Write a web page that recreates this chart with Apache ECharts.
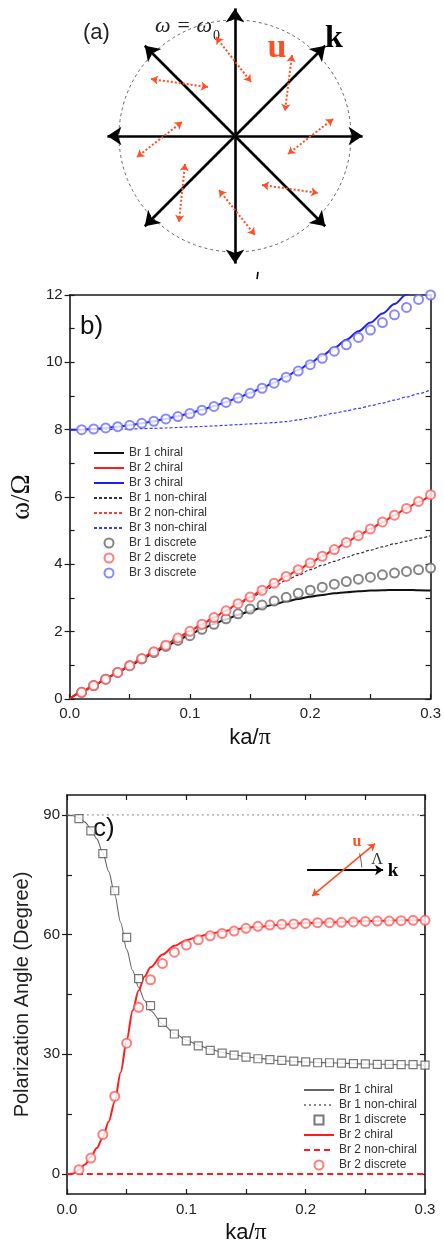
<!DOCTYPE html>
<html>
<head>
<meta charset="utf-8">
<script src="https://cdn.jsdelivr.net/npm/echarts@6/dist/echarts.min.js"></script>
<style>html,body{margin:0;padding:0;background:#fff}#c{width:444px;height:1246px}</style>
</head>
<body>
<div id="c"></div>
<script>
// ---------- Panel (a): schematic (units: circle radius = 1) ----------
const kAngles = [0, 45, 90, 135, 180, 225, 270, 315];
const kLength = 1.1;
// u double-arrows: [x1, y1, x2, y2]
const uArrows = [
  [-0.164, 0.853, 0.138, 0.466],
  [0.491, 0.698, 0.431, 0.216],
  [-0.724, 0.491, -0.233, 0.422],
  [-0.457, 0.121, -0.845, -0.181],
  [0.845, 0.147, 0.457, -0.155],
  [-0.431, -0.241, -0.483, -0.741],
  [0.233, -0.422, 0.716, -0.491],
  [-0.138, -0.466, 0.172, -0.853]
];
const markA = [[0.198, -1.172], [0.19, -1.233]];

// ---------- Panel (b): dispersion ----------
const kaB = [0.00,0.01,0.02,0.03,0.04,0.05,0.06,0.07,0.08,0.09,0.10,0.11,0.12,0.13,0.14,0.15,0.16,0.17,0.18,0.19,0.20,0.21,0.22,0.23,0.24,0.25,0.26,0.27,0.28,0.29,0.30];
const br1ChiralB = [0,0.2,0.4,0.59,0.79,0.98,1.18,1.37,1.56,1.74,1.92,2.08,2.23,2.37,2.5,2.61,2.72,2.81,2.9,2.97,3.04,3.09,3.14,3.17,3.2,3.22,3.23,3.24,3.24,3.23,3.22];
const br2ChiralB = [0,0.2,0.4,0.6,0.8,1.0,1.21,1.41,1.61,1.82,2.02,2.22,2.42,2.63,2.83,3.03,3.23,3.44,3.64,3.84,4.04,4.24,4.44,4.65,4.85,5.05,5.25,5.46,5.66,5.86,6.06];
const br3ChiralB = [8.0,8.0,8.02,8.05,8.09,8.13,8.19,8.25,8.32,8.4,8.49,8.59,8.7,8.82,8.95,9.09,9.24,9.4,9.58,9.77,9.98,10.2,10.43,10.67,10.92,11.18,11.45,11.73,12.02,12.32,12.63];
const br1NonChiralB = [0,0.2,0.4,0.6,0.8,1.0,1.21,1.41,1.61,1.82,2.02,2.22,2.42,2.62,2.81,2.99,3.17,3.35,3.52,3.68,3.84,3.97,4.09,4.21,4.32,4.42,4.52,4.61,4.69,4.77,4.85];
const br2NonChiralB = [0,0.2,0.4,0.6,0.8,1.0,1.21,1.41,1.61,1.82,2.02,2.22,2.42,2.63,2.83,3.03,3.23,3.44,3.64,3.84,4.04,4.24,4.44,4.65,4.85,5.05,5.25,5.46,5.66,5.86,6.06];
const br3NonChiralB = [8.0,8.0,8.0,8.01,8.01,8.02,8.03,8.04,8.05,8.065,8.08,8.095,8.11,8.13,8.15,8.17,8.19,8.21,8.24,8.29,8.35,8.42,8.49,8.56,8.63,8.71,8.79,8.88,8.97,9.07,9.18];
const kaDiscrete = [0.01,0.02,0.03,0.04,0.05,0.06,0.07,0.08,0.09,0.10,0.11,0.12,0.13,0.14,0.15,0.16,0.17,0.18,0.19,0.20,0.21,0.22,0.23,0.24,0.25,0.26,0.27,0.28,0.29,0.30];
const br1DiscreteB = [0.2,0.4,0.59,0.79,0.99,1.19,1.38,1.56,1.74,1.88,2.07,2.22,2.38,2.53,2.67,2.79,2.91,3.02,3.14,3.23,3.32,3.41,3.49,3.56,3.62,3.69,3.74,3.79,3.84,3.89];
const br2DiscreteB = [0.2,0.4,0.59,0.79,0.99,1.2,1.4,1.6,1.81,2.01,2.22,2.42,2.62,2.83,3.03,3.23,3.44,3.64,3.84,4.04,4.24,4.44,4.65,4.85,5.05,5.26,5.46,5.66,5.87,6.07];
const br3DiscreteB = [8.0,8.02,8.05,8.09,8.13,8.19,8.25,8.32,8.39,8.48,8.58,8.69,8.81,8.94,9.08,9.23,9.38,9.56,9.74,9.93,10.12,10.33,10.52,10.74,10.96,11.18,11.41,11.63,11.87,12.0];
const xTickVals = [0, 0.05, 0.1, 0.15, 0.2, 0.25, 0.3];
const xLabelVals = [0, 0.1, 0.2, 0.3];
const yTickB = [0,1,2,3,4,5,6,7,8,9,10,11,12];
const yLabelB = [0,2,4,6,8,10,12];

// ---------- Panel (c): polarization angle ----------
const kaC = [0,0.005,0.01,0.015,0.02,0.025,0.03,0.035,0.04,0.045,0.05,0.055,0.06,0.065,0.07,0.08,0.09,0.1,0.11,0.12,0.13,0.14,0.15,0.16,0.18,0.2,0.22,0.25,0.28,0.3];
const br1ChiralC = [90,89.8,89.3,88.2,86.5,84.0,80.5,75.8,70.0,63.0,56.3,51.0,46.8,43.5,41.0,37.6,35.3,33.6,32.3,31.3,30.5,29.9,29.4,29.0,28.4,28.1,27.9,27.6,27.4,27.3];
const br2ChiralC = [0,0.1,1.0,2.4,4.3,6.5,9.2,13.2,18.2,25.5,33.5,41.0,46.0,49.5,51.8,55.0,57.2,58.6,59.5,60.2,60.8,61.3,61.7,62.0,62.5,62.9,63.1,63.4,63.6,63.7];
const kaNonChiralC = [0, 0.3];
const br1NonChiralC = [90, 90];
const br2NonChiralC = [0, 0];
const br1DiscreteC = [89.1,86.0,80.3,71.0,59.3,49.0,42.2,38.0,35.1,33.4,32.1,31.0,30.3,29.8,29.3,28.9,28.7,28.5,28.3,28.1,27.9,27.9,27.8,27.7,27.6,27.5,27.5,27.4,27.4,27.3];
const br2DiscreteC = [1.1,4.0,9.9,19.5,32.8,41.8,48.7,52.8,55.6,57.4,58.7,59.7,60.3,60.9,61.6,62.1,62.4,62.6,62.7,62.8,63.0,63.0,63.1,63.2,63.3,63.4,63.4,63.5,63.6,63.6];
const yTickC = [0,15,30,45,60,75,90];
const yLabelC = [0,30,60,90];
// inset (in panel c data units)
const insetK = [[0.2012, 76.2], [0.2649, 76.2]];
const insetU = [[0.2054, 69.7], [0.2582, 82.8]];
const insetArc = [[0.2452, 80.4], [0.2466, 78.2], [0.2470, 76.8]];

// ---------- build ----------
const zip = (xs, ys) => xs.map((x, i) => [x, ys[i]]);
const deg = Math.PI / 180;
const FONT = 'Liberation Sans';
const AX = '#1a1a1a';
const RED = '#ff1c1c', BLUE = '#2020ee', ORANGE = '#ff4f24';
const SQUARE = 'path://M0,0L10,0L10,10L0,10Z';

const axLine = { show: true, onZero: false, lineStyle: { color: AX, width: 1.6 } };
const tickLbl = { fontFamily: FONT, fontSize: 15, color: '#222' };
const tickLine = { color: AX, width: 1.2 };
const noAxis = { axisLine: { show: false, onZero: false }, axisTick: { show: false }, axisLabel: { show: false }, splitLine: { show: false } };

const chart = echarts.init(document.getElementById('c'));

function lineS(name, xi, yi, xs, ys, color, width, type, z) {
  return { type: 'line', name, xAxisIndex: xi, yAxisIndex: yi, data: zip(xs, ys), symbol: 'none', showSymbol: false,
    smooth: 0.3, smoothMonotone: 'x', lineStyle: { color, width, type }, itemStyle: { color }, z: z || 2, silent: true };
}
function dotS(name, xi, yi, xs, ys, color, symbol, size, fill) {
  return { type: 'scatter', name, xAxisIndex: xi, yAxisIndex: yi, data: zip(xs, ys), symbol, symbolSize: size,
    symbolKeepAspect: true,
    itemStyle: { color: fill || color, borderColor: color, borderWidth: 1.2 }, z: 4, silent: true };
}
const lineItem = n => ({ name: n, itemStyle: { opacity: 0 } });

const option = {
  animation: false,
  backgroundColor: '#fff',
  polar: { center: [235, 136], radius: 116 },
  angleAxis: { type: 'value', min: 0, max: 360, axisLine: { show: true, lineStyle: { color: '#666', width: 1, type: [3, 3] } },
    axisTick: { show: false }, axisLabel: { show: false }, splitLine: { show: false } },
  radiusAxis: { show: false, min: 0, max: 1 },
  grid: [
    { left: 90, top: 2.6, width: 290, height: 266.8 },
    { left: 67, top: 295, width: 364, height: 404 },
    { left: 67, top: 795, width: 358, height: 402 }
  ],
  xAxis: [
    Object.assign({ gridIndex: 0, type: 'value', min: -1.25, max: 1.25, show: false }, noAxis),
    { gridIndex: 1, type: 'value', position: 'bottom', min: 0, max: 0.3, axisLine: axLine, splitLine: { show: false },
      axisTick: { show: true, inside: true, length: 5, customValues: xTickVals, lineStyle: tickLine },
      axisLabel: Object.assign({ show: true, customValues: xLabelVals, formatter: v => v.toFixed(1), margin: 7 }, tickLbl),
      name: '{s|ka/}{g|π}', nameLocation: 'middle', nameGap: 27,
      nameTextStyle: { rich: { s: { fontFamily: FONT, fontSize: 22, color: '#111' }, g: { fontFamily: 'Liberation Serif', fontSize: 24, color: '#111' } } } },
    Object.assign({ gridIndex: 1, type: 'value', position: 'top', min: 0, max: 0.3 }, noAxis, { axisLine: axLine }),
    { gridIndex: 2, type: 'value', position: 'bottom', min: 0, max: 0.3, axisLine: axLine, splitLine: { show: false },
      axisTick: { show: true, inside: true, length: 5, customValues: xTickVals, lineStyle: tickLine },
      axisLabel: Object.assign({ show: true, customValues: xLabelVals, formatter: v => v.toFixed(1), margin: 8 }, tickLbl),
      name: '{s|ka/}{g|π}', nameLocation: 'middle', nameGap: 27,
      nameTextStyle: { rich: { s: { fontFamily: FONT, fontSize: 22, color: '#111' }, g: { fontFamily: 'Liberation Serif', fontSize: 24, color: '#111' } } } },
    Object.assign({ gridIndex: 2, type: 'value', position: 'top', min: 0, max: 0.3 }, noAxis,
      { axisLine: axLine, axisTick: { show: true, inside: true, length: 5, customValues: xTickVals, lineStyle: tickLine } })
  ],
  yAxis: [
    Object.assign({ gridIndex: 0, type: 'value', min: -1.15, max: 1.15, show: false }, noAxis),
    { gridIndex: 1, type: 'value', position: 'left', min: 0, max: 12, axisLine: axLine, splitLine: { show: false },
      axisTick: { show: true, inside: false, length: 5, customValues: yLabelB, lineStyle: tickLine },
      axisLabel: Object.assign({ show: true, customValues: yLabelB, margin: 7 }, tickLbl),
      name: 'ω/Ω', nameLocation: 'middle', nameGap: 16, nameRotate: 90,
      nameTextStyle: { fontFamily: 'Liberation Serif', fontSize: 27, color: '#111' } },
    Object.assign({ gridIndex: 1, type: 'value', position: 'left', min: 0, max: 12 }, noAxis,
      { axisTick: { show: true, inside: true, length: 5, customValues: yTickB, lineStyle: tickLine } }),
    Object.assign({ gridIndex: 1, type: 'value', position: 'right', min: 0, max: 12 }, noAxis,
      { axisLine: axLine, axisTick: { show: true, inside: true, length: 5, customValues: yTickB, lineStyle: tickLine } }),
    { gridIndex: 2, type: 'value', position: 'left', min: -5, max: 95, axisLine: axLine, splitLine: { show: false },
      axisTick: { show: true, inside: false, length: 5, customValues: yLabelC, lineStyle: tickLine },
      axisLabel: Object.assign({ show: true, customValues: yLabelC, margin: 7 }, tickLbl),
      name: 'Polarization Angle (Degree)', nameLocation: 'middle', nameGap: 32, nameRotate: 90,
      nameTextStyle: { fontFamily: FONT, fontSize: 20, color: '#222' } },
    Object.assign({ gridIndex: 2, type: 'value', position: 'left', min: -5, max: 95 }, noAxis,
      { axisTick: { show: true, inside: true, length: 5, customValues: yTickC, lineStyle: tickLine } }),
    Object.assign({ gridIndex: 2, type: 'value', position: 'right', min: -5, max: 95 }, noAxis,
      { axisLine: axLine, axisTick: { show: true, inside: true, length: 5, customValues: yTickC, lineStyle: tickLine } })
  ],
  legend: [
    { orient: 'vertical', left: 88, top: 442, itemWidth: 30, itemHeight: 9, itemGap: 3, selectedMode: false,
      textStyle: { fontFamily: FONT, fontSize: 12, color: '#333', lineHeight: 12 },
      data: [lineItem('Br 1 chiral'), lineItem('Br 2 chiral'), lineItem('Br 3 chiral'), lineItem('Br 1 non-chiral'), lineItem('Br 2 non-chiral'), lineItem('Br 3 non-chiral'), 'Br 1 discrete', 'Br 2 discrete', 'Br 3 discrete'] },
    { orient: 'vertical', left: 298, top: 1079, itemWidth: 30, itemHeight: 9, itemGap: 3, selectedMode: false,
      textStyle: { fontFamily: FONT, fontSize: 12, color: '#333', lineHeight: 12 },
      formatter: n => n.replace(/^c:/, ''),
      data: [lineItem('c:Br 1 chiral'), lineItem('c:Br 1 non-chiral'), 'c:Br 1 discrete', lineItem('c:Br 2 chiral'), lineItem('c:Br 2 non-chiral'), 'c:Br 2 discrete'] }
  ],
  series: [
    // panel a
    { type: 'lines', coordinateSystem: 'cartesian2d', xAxisIndex: 0, yAxisIndex: 0, silent: true, clip: false,
      data: kAngles.map(a => ({ coords: [[0, 0], [kLength * Math.cos(a * deg), kLength * Math.sin(a * deg)]] })),
      symbol: ['none', 'arrow'], symbolSize: 14, lineStyle: { color: '#000', width: 2.6, opacity: 1, curveness: 0 }, z: 3 },
    { type: 'lines', coordinateSystem: 'cartesian2d', xAxisIndex: 0, yAxisIndex: 0, silent: true, clip: false,
      data: uArrows.map(u => ({ coords: [[u[0], u[1]], [u[2], u[3]]] })),
      symbol: ['arrow', 'arrow'], symbolSize: 7, lineStyle: { color: ORANGE, width: 2, type: [2, 2], opacity: 1, curveness: 0 }, z: 4 },
    { type: 'lines', coordinateSystem: 'cartesian2d', xAxisIndex: 0, yAxisIndex: 0, silent: true, clip: false,
      data: [{ coords: markA }], symbol: 'none', lineStyle: { color: '#000', width: 1.6, opacity: 1 } },
    // panel b
    lineS('Br 1 non-chiral', 1, 1, kaB, br1NonChiralB, '#333', 1.2, [3, 2]),
    lineS('Br 2 non-chiral', 1, 1, kaB, br2NonChiralB, '#ff3a3a', 1.2, [3, 2]),
    lineS('Br 3 non-chiral', 1, 1, kaB, br3NonChiralB, '#3a3aff', 1.2, [3, 2]),
    lineS('Br 1 chiral', 1, 1, kaB, br1ChiralB, '#111', 2, 'solid', 3),
    lineS('Br 2 chiral', 1, 1, kaB, br2ChiralB, RED, 2, 'solid', 3),
    lineS('Br 3 chiral', 1, 1, kaB, br3ChiralB, BLUE, 2, 'solid', 3),
    dotS('Br 1 discrete', 1, 1, kaDiscrete, br1DiscreteB, '#666', 'emptyCircle', 9),
    dotS('Br 2 discrete', 1, 1, kaDiscrete, br2DiscreteB, '#ff5c5c', 'emptyCircle', 9),
    dotS('Br 3 discrete', 1, 1, kaDiscrete, br3DiscreteB, '#6a6aff', 'emptyCircle', 9),
    // panel c
    lineS('c:Br 1 non-chiral', 3, 4, kaNonChiralC, br1NonChiralC, '#888', 1, [2, 3]),
    lineS('c:Br 2 non-chiral', 3, 4, kaNonChiralC, br2NonChiralC, RED, 2, [6, 4]),
    lineS('c:Br 1 chiral', 3, 4, kaC, br1ChiralC, '#666', 1.1, 'solid', 3),
    lineS('c:Br 2 chiral', 3, 4, kaC, br2ChiralC, RED, 2, 'solid', 3),
    dotS('c:Br 1 discrete', 3, 4, kaDiscrete, br1DiscreteC, '#555', SQUARE, 8, '#fff'),
    dotS('c:Br 2 discrete', 3, 4, kaDiscrete, br2DiscreteC, '#ff5c5c', 'emptyCircle', 9),
    // inset in panel c
    { type: 'lines', coordinateSystem: 'cartesian2d', xAxisIndex: 3, yAxisIndex: 4, silent: true, clip: false,
      data: [{ coords: insetK }], symbol: ['none', 'arrow'], symbolSize: 8, lineStyle: { color: '#000', width: 2, opacity: 1 }, z: 5 },
    { type: 'lines', coordinateSystem: 'cartesian2d', xAxisIndex: 3, yAxisIndex: 4, silent: true, clip: false,
      data: [{ coords: insetU }], symbol: ['arrow', 'arrow'], symbolSize: 7, lineStyle: { color: ORANGE, width: 1.6, opacity: 1 }, z: 5 },
    { type: 'lines', coordinateSystem: 'cartesian2d', xAxisIndex: 3, yAxisIndex: 4, silent: true, clip: false, polyline: true,
      data: [{ coords: insetArc }], symbol: ['arrow', 'arrow'], symbolSize: 3, lineStyle: { color: '#444', width: 0.8, opacity: 1 }, z: 5 }
  ],
  graphic: [
    { type: 'text', x: 83, y: 33, style: { text: '(a)', fontFamily: FONT, fontSize: 22, fill: '#222', verticalAlign: 'middle' } },
    { type: 'text', x: 155, y: 26, style: { text: 'ω = ω', fontFamily: 'Liberation Serif', fontStyle: 'italic', fontSize: 22, fill: '#222', verticalAlign: 'middle' } },
    { type: 'text', x: 213, y: 36, style: { text: '0', fontFamily: 'Liberation Serif', fontSize: 14, fill: '#222', verticalAlign: 'middle' } },
    { type: 'text', x: 277, y: 48, style: { text: 'u', fontFamily: 'Liberation Serif', fontWeight: 'bold', fontSize: 34, fill: ORANGE, align: 'center', verticalAlign: 'middle' } },
    { type: 'text', x: 334, y: 39, style: { text: 'k', fontFamily: 'Liberation Serif', fontWeight: 'bold', fontSize: 32, fill: '#000', align: 'center', verticalAlign: 'middle' } },
    { type: 'text', x: 80, y: 327, style: { text: 'b)', fontFamily: FONT, fontSize: 26, fill: '#111', verticalAlign: 'middle' } },
    { type: 'text', x: 93, y: 829, style: { text: 'c)', fontFamily: FONT, fontSize: 26, fill: '#111', verticalAlign: 'middle' } },
    { type: 'text', x: 357, y: 842, style: { text: 'u', fontFamily: 'Liberation Serif', fontWeight: 'bold', fontSize: 16, fill: ORANGE, align: 'center', verticalAlign: 'middle' } },
    { type: 'text', x: 393, y: 871, style: { text: 'k', fontFamily: 'Liberation Serif', fontWeight: 'bold', fontSize: 19, fill: '#000', align: 'center', verticalAlign: 'middle' } },
    { type: 'text', x: 377, y: 860, style: { text: 'Λ', fontFamily: 'Liberation Serif', fontSize: 16, fill: '#333', align: 'center', verticalAlign: 'middle' } }
  ]
};
chart.setOption(option);
</script>
</body>
</html>
